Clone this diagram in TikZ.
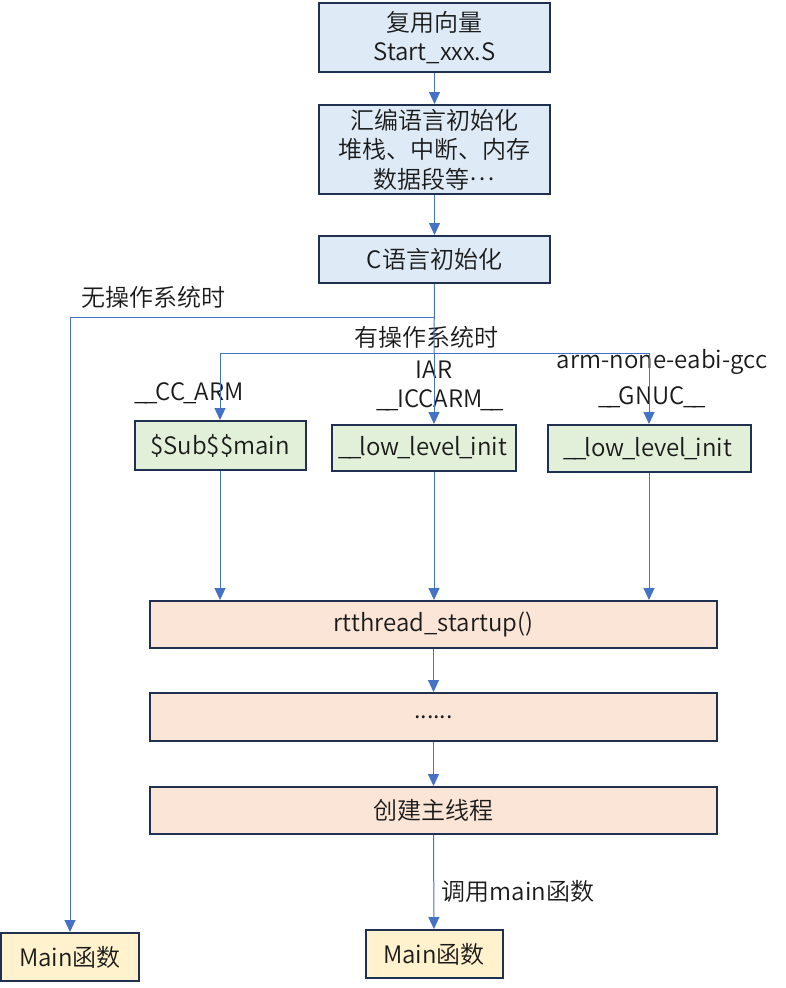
\documentclass[tikz,border=0pt]{standalone}
\usepackage{fontspec}
\setmainfont{Noto Sans CJK SC DemiLight}
\usetikzlibrary{arrows.meta}
\definecolor{lineblue}{HTML}{4472C4}
\definecolor{boxborder}{HTML}{1F3050}
\definecolor{fillblue}{HTML}{DEEBF7}
\definecolor{fillgreen}{HTML}{E2F0D9}
\definecolor{fillorange}{HTML}{FBE5D6}
\definecolor{fillyellow}{HTML}{FFF2CC}
\definecolor{txt}{HTML}{1A1A1A}
\newcommand{\us}{\kern-0.08em\_\kern-0.08em}
\tikzset{
  box/.style={draw=boxborder, line width=2pt, inner sep=0pt, align=center,
    text=txt, font=\fontsize{24}{29.5}\selectfont},
  bluebox/.style={box, fill=fillblue, minimum width=231pt},
  greenbox/.style={box, fill=fillgreen},
  orangebox/.style={box, fill=fillorange, minimum width=567pt, minimum height=47pt},
  yellowbox/.style={box, fill=fillyellow, minimum width=137pt, minimum height=48pt},
  conn/.style={draw=lineblue, line width=1pt},
  arr/.style={conn, -{Triangle[width=11pt,length=12pt]}},
  lbl/.style={inner sep=0pt, text=txt, font=\fontsize{24}{29.5}\selectfont, align=center}
}
\begin{document}
\begin{tikzpicture}[x=1pt,y=-1pt]
\useasboundingbox (0,0) rectangle (786,988);
\fill[white] (0,0) rectangle (786,988);
% nodes
\node[bluebox, minimum height=69pt] (b1) at (434.5,37.5) {复用向量\\Start\_xxx.S};
\node[bluebox, minimum height=89pt] (b2) at (434.5,149.5) {汇编语言初始化\\堆栈、中断、内存\\数据段等\raisebox{0.3em}{…}};
\node[bluebox, minimum height=47pt] (b3) at (434.5,259.5) {C语言初始化};
\node[greenbox, minimum width=171pt, minimum height=49pt] (g1) at (220,445.5) {\$Sub\$\$main};
\node[greenbox, minimum width=184pt, minimum height=46pt] (g2) at (424,448) {\us\us low\us level\us init};
\node[greenbox, minimum width=203pt, minimum height=47pt] (g3) at (649,448.5) {\us\us low\us level\us init};
\node[orangebox] (o1) at (433.5,624.5) {rtthread\_startup()};
\node[orangebox, minimum height=48pt] (o2) at (433.5,717) {......};
\node[orangebox] (o3) at (433.5,810.5) {创建主线程};
\node[yellowbox, minimum width=138pt] (m1) at (70,957) {Main函数};
\node[yellowbox] (m2) at (434,954) {Main函数};
% labels
\node[lbl] (l1) at (153,297) {无操作系统时};
\node[lbl] (l2) at (426,337) {有操作系统时};
\node[lbl] (l3) at (190,393) {\us\us CC\us ARM};
\node[lbl] (l4) at (434,370) {IAR};
\node[lbl] (l5) at (440,400) {\us\us ICCARM\us\us};
\node[lbl] (l6) at (662,362) {arm-none-eabi-gcc};
\node[lbl] (l7) at (652,397) {\us\us GNUC\us\us};
\node[lbl] (l8) at (518,891) {调用main函数};
% split coordinates
\coordinate (n1) at (434,317);
\coordinate (n2) at (434,353);
% connectors
\draw[arr] (b1) -- (b2);
\draw[arr] (b2) -- (b3);
\draw[conn] (b3.south) -- (n2);
\draw[arr] (n1) -| (m1.north);
\draw[arr] (n2) -| (g1.north);
\draw[arr] (n2) -- (n2 |- g2.north);
\draw[arr] (n2) -| (g3.north);
\draw[arr] (g1.south) -- (g1.south |- o1.north);
\draw[arr] (n2 |- g2.south) -- (n2 |- o1.north);
\draw[arr] (g3.south) -- (g3.south |- o1.north);
\draw[arr] (o1) -- (o2);
\draw[arr] (o2) -- (o3);
\draw[arr] (o3) -- (m2);
\end{tikzpicture}
\end{document}
